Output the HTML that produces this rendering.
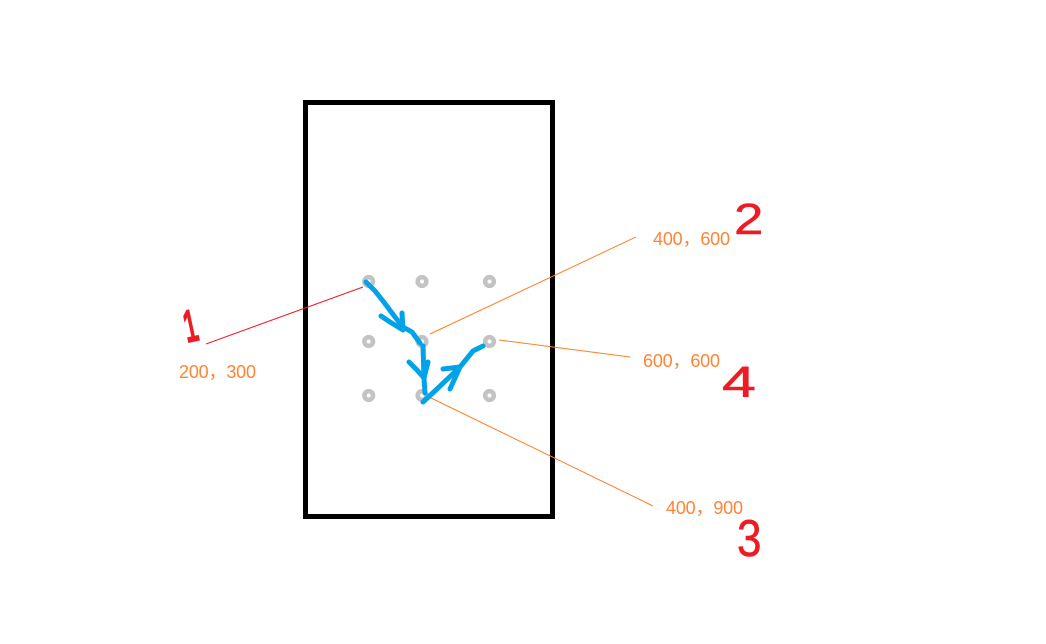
<!DOCTYPE html>
<html lang="zh">
<head>
<meta charset="utf-8">
<title>Gesture path diagram</title>
<style>
html,body{margin:0;padding:0;background:#fff;width:1046px;height:644px;overflow:hidden}
svg{display:block}
.coord{font-family:"Liberation Sans","Noto Sans CJK SC",sans-serif;font-size:18px;fill:#ff8433}
.num{font-family:"Liberation Sans",sans-serif;font-size:44px;fill:#ed1c24;stroke:#ed1c24;stroke-width:.5}
.stroke{fill:none;stroke:#00a2e8;stroke-width:5;stroke-linecap:round;stroke-linejoin:round}
</style>
</head>
<body>
<svg id="diagram" width="1046" height="644" viewBox="0 0 1046 644" xmlns="http://www.w3.org/2000/svg">
  <rect x="305.5" y="102.5" width="247" height="414" fill="none" stroke="#000" stroke-width="5"/>
  <g id="dots"></g>
  <g id="callouts"></g>
  <g>
    <polyline class="stroke" points="366,282 375,291 383,301 395,317 403,327 412,332 420,343"/>
    <polyline class="stroke" points="381,316 390,322 403,330 402,313"/>
    <polyline class="stroke" points="423,346 424,378 425,393"/>
    <polyline class="stroke" points="409,362 417,370 424,378 428,362"/>
    <polyline class="stroke" points="423,402 437,389 460,367 473,351 483,346"/>
    <polyline class="stroke" points="443,369 460,367 450,389"/>
  </g>
  <text class="num" style="stroke-width:2.5" transform="translate(187,342) rotate(-12) scale(.55,1)">1</text>
  <text class="num" transform="translate(734,234) scale(1.2,1)">2</text>
  <text class="num" transform="translate(737,556) scale(1,1.18)">3</text>
  <text class="num" x="722" y="397" textLength="34" lengthAdjust="spacingAndGlyphs">4</text>
</svg>
<script>
const columnValues = [200, 400, 600];
const rowValues = [300, 600, 900];
const calloutX = [200, 400, 400, 600];
const calloutY = [300, 600, 900, 600];
const calloutColors = ['#ed1c24', '#ff7f27', '#ff7f27', '#ff7f27'];

const xDomain = [200, 400, 600], xRange = [368.7, 422, 489.5];
const yDomain = [300, 600, 900], yRange = [281.5, 341.5, 395.5];

function piecewise(domain, range, v) {
  let i = v <= domain[1] ? 0 : 1;
  return range[i] + (v - domain[i]) * (range[i + 1] - range[i]) / (domain[i + 1] - domain[i]);
}
function xScale(v) { return piecewise(xDomain, xRange, v); }
function yScale(v) { return piecewise(yDomain, yRange, v); }

const NS = 'http://www.w3.org/2000/svg';
const dotsGroup = document.getElementById('dots');
rowValues.forEach(function (row) {
  columnValues.forEach(function (col) {
    const dot = document.createElementNS(NS, 'circle');
    
    
    dot.setAttribute('cx', xScale(col));
    dot.setAttribute('cy', yScale(row));
    dot.setAttribute('r', 4.3);
    dot.setAttribute('fill', '#fff');
    dot.setAttribute('stroke', '#c3c3c3');
    dot.setAttribute('stroke-width', 4.6);
    dotsGroup.appendChild(dot);
  });
});

/* Leader geometry, relative to the dot each callout annotates */
const leaderStart = [[-5.7, 5.5], [8, -7.5], [6, 1], [9.5, -1.5]];
const leaderEnd = [[-162.7, 62.5], [214, -104.5], [231, 110.5], [140.5, 15.5]];
const textAnchor = [[-189.7, 96.5], [231, -96.5], [244, 118.5], [153.5, 25.5]];

const calloutsGroup = document.getElementById('callouts');
calloutX.forEach(function (vx, i) {
  const px = xScale(vx), py = yScale(calloutY[i]);
  const line = document.createElementNS(NS, 'line');
  
  
  line.setAttribute('x1', px + leaderStart[i][0]);
  line.setAttribute('y1', py + leaderStart[i][1]);
  line.setAttribute('x2', px + leaderEnd[i][0]);
  line.setAttribute('y2', py + leaderEnd[i][1]);
  line.setAttribute('stroke', calloutColors[i]);
  line.setAttribute('stroke-width', 1);
  calloutsGroup.appendChild(line);
  const label = document.createElementNS(NS, 'text');
  
  
  label.setAttribute('class', 'coord');
  label.setAttribute('x', px + textAnchor[i][0]);
  label.setAttribute('y', py + textAnchor[i][1]);
  label.setAttribute('textLength', 77);
  label.textContent = vx + '，' + calloutY[i];
  calloutsGroup.appendChild(label);
});
</script>
</body>
</html>
